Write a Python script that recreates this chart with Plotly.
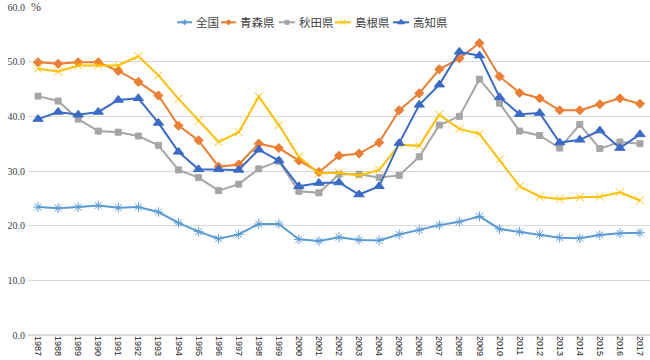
import plotly.graph_objects as go

years = [str(y) for y in range(1987, 2018)]

zenkoku = [23.4, 23.2, 23.4, 23.7, 23.3, 23.4, 22.5, 20.5, 18.9, 17.6, 18.4, 20.3, 20.3, 17.5, 17.2,
           17.9, 17.4, 17.3, 18.4, 19.2, 20.1, 20.7, 21.7, 19.4, 18.9, 18.4, 17.8, 17.7, 18.3, 18.6, 18.7]
aomori = [49.9, 49.6, 49.9, 49.9, 48.3, 46.3, 43.8, 38.3, 35.6, 30.8, 31.2, 35.0, 34.2, 31.9, 29.8,
          32.8, 33.2, 35.2, 41.1, 44.2, 48.6, 50.6, 53.4, 47.3, 44.3, 43.3, 41.1, 41.1, 42.2, 43.3, 42.3]
akita = [43.7, 42.8, 39.5, 37.3, 37.1, 36.4, 34.7, 30.2, 28.8, 26.4, 27.6, 30.4, 31.8, 26.3, 26.0,
         29.4, 29.4, 28.8, 29.2, 32.6, 38.4, 40.0, 46.8, 42.4, 37.3, 36.5, 34.2, 38.5, 34.1, 35.3, 35.0]
shimane = [48.7, 48.2, 49.3, 49.3, 49.3, 51.0, 47.5, 43.2, 39.2, 35.3, 37.1, 43.6, 38.4, 32.6, 29.6,
           29.7, 29.2, 30.2, 34.8, 34.6, 40.3, 37.7, 36.8, 32.1, 27.2, 25.3, 24.9, 25.2, 25.3, 26.1, 24.6]
kochi = [39.5, 40.8, 40.3, 40.8, 43.0, 43.3, 38.8, 33.5, 30.3, 30.3, 30.2, 33.9, 31.9, 27.2, 27.8,
         27.9, 25.7, 27.2, 35.1, 42.1, 45.8, 51.8, 51.1, 43.5, 40.4, 40.6, 35.2, 35.7, 37.4, 34.2, 36.7]

y_ticks = [0, 10, 20, 30, 40, 50, 60]
y_tick_labels = [f"{v:.1f}" for v in y_ticks]

series = [
    ("全国", zenkoku, "#5B9BD5", "asterisk-open", 8),
    ("青森県", aomori, "#ED7D31", "diamond", 7),
    ("秋田県", akita, "#A5A5A5", "square", 6),
    ("島根県", shimane, "#FFC000", "x-thin-open", 8),
    ("高知県", kochi, "#3A6BC8", "triangle-up", 9),
]

# legend layout (pixel positions in the page), drawn on an invisible overlay axis
legend_line_x0 = [177, 221, 279, 335, 393]
legend_line_x1 = [192, 236, 295, 351, 409]
legend_text_x = [194, 238, 297, 353, 411]
legend_y = 22.3

fig = go.Figure()
for name, vals, color, sym, size in series:
    fig.add_trace(go.Scatter(
        x=years, y=vals, name=name, mode="lines+markers",
        line=dict(color=color, width=2),
        marker=dict(symbol=sym, size=size, color=color, line=dict(color=color, width=1)),
        showlegend=False,
    ))

annotations = [dict(text="%", xref="paper", yref="paper", x=0.0, y=1.0,
                    xanchor="left", yanchor="middle", showarrow=False,
                    font=dict(size=12, color="#404040", family="Liberation Serif"),
                    bgcolor="white", borderpad=2)]

for i, (name, vals, color, sym, size) in enumerate(series):
    x0, x1 = legend_line_x0[i], legend_line_x1[i]
    fig.add_trace(go.Scatter(
        x=[x0, x1], y=[legend_y, legend_y], mode="lines",
        line=dict(color=color, width=2), xaxis="x2", yaxis="y2",
        showlegend=False, hoverinfo="skip", cliponaxis=False,
    ))
    fig.add_trace(go.Scatter(
        x=[(x0 + x1) / 2], y=[legend_y], mode="markers",
        marker=dict(symbol=sym, size=max(size - 3, 4), color=color, line=dict(color=color, width=1)),
        xaxis="x2", yaxis="y2", showlegend=False, hoverinfo="skip", cliponaxis=False,
    ))
    annotations.append(dict(text=name, xref="x2", yref="y2", x=legend_text_x[i], y=legend_y,
                            xanchor="left", yanchor="middle", showarrow=False,
                            font=dict(size=11.5, family="Noto Sans CJK JP", color="#404040")))

fig.update_layout(
    width=650, height=360,
    margin=dict(l=28, r=0, t=7, b=25, autoexpand=False),
    paper_bgcolor="white", plot_bgcolor="white",
    font=dict(family="Liberation Sans, Arial, sans-serif", color="#404040"),
    showlegend=False,
    hovermode=False,
    xaxis=dict(type="category", range=[-0.5, 30.5], showgrid=False,
               tickangle=90, tickfont=dict(size=9, color="#222222", family="Liberation Sans"),
               ticks="", showline=False, zeroline=False, automargin=False,
               ticklabelstandoff=0),
    yaxis=dict(range=[0, 60], tickvals=y_ticks, ticktext=y_tick_labels,
               showgrid=True, gridcolor="#D9D9D9", gridwidth=1,
               tickfont=dict(size=10, color="#404040", family="Liberation Serif"),
               ticks="", showline=False, zeroline=True, zerolinecolor="#D9D9D9",
               automargin=False, ticklabelstandoff=2),
    xaxis2=dict(overlaying="x", anchor="y2", range=[28, 650], visible=False, domain=[0, 1]),
    yaxis2=dict(overlaying="y", anchor="x2", range=[335, 7], visible=False, domain=[0, 1]),
    annotations=annotations,
)

fig.write_html("out.html", config={"displayModeBar": False},
               post_script="document.body.style.margin='0';document.body.style.overflow='hidden';")
